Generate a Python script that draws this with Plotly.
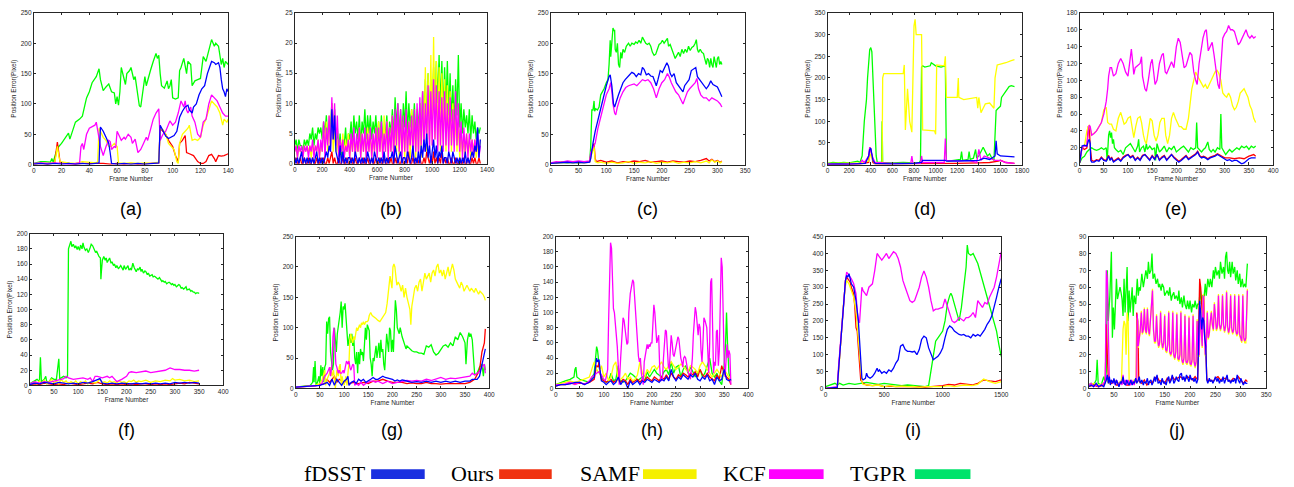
import plotly.graph_objects as go

W, H = 1294, 487

# ---------------- data (frame, position error) ----------------
A_FDSST = [(0,1),(5,2),(10,1),(15,2),(20,1),(25,2),(30,1),(35,2),(40,1),(45,2),(47,3),(48,62),(50,55),(52,45),(54,35),(55,20),(56,2),(60,1),(65,2),(70,1),(75,2),(80,1),(85,2),(90,3),(91,65),(93,55),(95,47),(97,43),(99,45),(101,48),(103,55),(105,78),(107,88),(109,95),(111,98),(112,90),(114,85),(115,95),(117,100),(119,115),(121,125),(123,130),(125,150),(127,165),(128,170),(130,168),(131,165),(133,168),(134,160),(135,140),(136,125),(137,120),(138,112),(139,125),(140,120)]
A_OURS = [(0,1),(5,2),(10,1),(15,3),(16,20),(17,37),(18,20),(19,3),(25,2),(30,1),(35,2),(40,2),(45,3),(50,2),(55,1),(60,2),(65,1),(70,2),(75,1),(80,2),(85,3),(90,3),(91,60),(93,55),(95,50),(97,40),(100,30),(102,15),(104,5),(105,35),(107,40),(109,48),(110,20),(112,18),(115,15),(118,5),(120,2),(122,2),(124,5),(126,15),(128,17),(130,10),(131,5),(133,15),(135,14),(137,15),(140,18)]
A_SAMF = [(0,1),(5,3),(10,2),(15,3),(16,15),(17,30),(18,15),(19,5),(25,3),(30,2),(35,5),(40,4),(45,3),(46,5),(47,60),(48,55),(50,45),(52,40),(54,30),(56,30),(58,35),(60,30),(61,3),(65,2),(70,3),(75,2),(80,3),(85,2),(90,4),(91,60),(93,58),(95,50),(97,35),(99,30),(101,25),(103,5),(104,2),(105,35),(107,50),(109,55),(111,60),(112,65),(114,40),(116,42),(118,40),(120,45),(122,65),(124,75),(126,90),(128,105),(130,100),(132,95),(134,85),(136,65),(137,75),(139,70),(140,75)]
A_KCF = [(0,2),(5,3),(10,2),(15,3),(20,2),(25,1),(30,2),(33,3),(34,30),(35,35),(36,25),(38,50),(40,60),(42,62),(44,65),(45,70),(46,55),(47,38),(48,30),(50,15),(51,25),(52,30),(54,40),(55,38),(56,25),(58,30),(59,28),(60,55),(62,45),(63,40),(65,45),(66,42),(68,50),(70,45),(71,35),(73,42),(75,20),(77,25),(79,35),(81,45),(82,40),(84,60),(86,75),(88,85),(90,92),(91,40),(93,50),(95,55),(97,65),(98,72),(100,65),(102,70),(104,85),(106,105),(108,95),(109,105),(110,90),(111,85),(113,95),(114,80),(116,70),(118,50),(120,45),(122,70),(124,75),(126,100),(128,115),(130,110),(132,105),(134,95),(136,85),(138,80),(140,80)]
A_TGPR = [(0,2),(3,4),(5,5),(8,5),(10,4),(12,4),(13,10),(14,4),(16,20),(18,30),(20,35),(22,42),(24,50),(25,52),(26,42),(28,55),(30,70),(33,75),(35,80),(37,100),(38,110),(40,120),(42,135),(45,145),(47,158),(48,140),(50,122),(52,128),(54,133),(56,120),(58,118),(59,100),(60,112),(61,98),(62,120),(63,160),(65,140),(66,132),(67,150),(69,155),(70,160),(72,140),(73,145),(74,130),(76,97),(77,95),(78,115),(80,145),(81,130),(82,140),(84,155),(86,170),(88,183),(89,175),(90,180),(91,150),(92,130),(94,126),(96,138),(97,125),(98,130),(99,140),(100,110),(102,108),(104,110),(105,155),(106,160),(108,175),(109,162),(110,150),(111,170),(113,165),(114,130),(116,138),(118,140),(120,142),(121,160),(122,178),(124,170),(126,190),(127,200),(128,206),(130,195),(131,200),(133,195),(134,180),(135,165),(136,175),(137,160),(138,170),(140,165)]

B_FRAMES = list(range(0, 1351, 10))
B_FDSST = [1,0,1,0,1,2,0,1,0,1, 0,1,0,1,0,1,2,0,1,0, 1,0,1,2,1,3,2,9,4,8, 2,1,0,3,0,2,0,1,0,1,
           1,0,1,0,2,1,0,1,0,1, 0,1,0,2,1,0,1,0,2,1, 0,1,0,1,0,2,0,1,0,1, 1,2,0,3,1,0,1,2,0,1,
           1,0,2,1,0,1,3,0,1,0, 2,0,3,1,4,2,5,1,3,0, 2,4,1,3,0,2,1,3,0,1, 1,0,2,1,0,2,1,0,1,0,
           1,0,1,0,2,0,1,0,1,2, 1,3,2,6,1,4]
B_OURS = [0,1,0,0,1,0,0,1,0,0, 1,0,0,1,0,0,1,0,0,1, 0,1,0,0,1,0,1,2,0,1, 0,0,1,0,0,1,0,0,1,0,
          0,1,0,0,1,0,0,1,0,0, 1,0,0,1,0,0,1,0,0,1, 0,0,1,0,0,1,0,0,1,0, 1,0,0,1,0,1,0,0,1,0,
          0,1,0,2,0,0,1,0,0,1, 0,1,0,0,1,0,2,1,0,1, 0,2,0,1,0,1,0,2,0,1, 0,1,0,0,1,0,0,1,0,0,
          1,0,0,1,0,0,1,0,0,1, 0,1,0,0,1,0]
B_SAMF = [2,3,1,3,2,2,1,3,2,3, 2,3,1,3,2,3,2,4,1,3, 2,6,3,7,2,8,3,10,2,6, 2,4,1,3,2,5,1,4,2,5,
          1,4,2,5,1,4,2,6,1,5, 2,5,1,6,2,5,1,4,2,6, 1,7,2,6,1,8,2,7,1,6, 2,8,1,7,2,9,1,8,2,7,
          1,8,2,7,1,9,2,8,1,9, 2,10,1,12,3,16,2,15,4,18, 3,21,4,17,3,16,2,15,4,14, 2,13,3,12,2,10,3,8,2,7,
          1,5,2,4,1,5,2,4,1,4, 2,4,1,3,2,4]
B_KCF = [2,3,1,3,2,3,1,3,2,3, 1,3,2,4,1,3,2,4,1,4, 2,7,1,6,3,8,2,11,4,10, 3,8,1,4,2,4,1,3,2,4,
         1,5,2,6,1,5,2,6,1,5, 2,6,1,5,2,6,1,5,2,6, 1,6,2,7,1,5,2,7,1,6, 2,8,1,9,3,10,2,9,1,8,
         2,9,1,7,3,8,1,9,2,10, 1,11,3,12,2,10,4,13,2,12, 3,14,4,13,2,12,3,11,2,12, 3,10,2,11,3,9,2,12,3,10,
         2,7,1,6,2,5,1,5,2,4, 1,4,2,5,1,3]
B_TGPR = [3,4,2,4,3,3,2,4,3,4, 3,5,4,6,3,5,4,6,5,6, 4,7,5,8,4,7,6,10,5,9, 3,6,2,5,1,4,3,6,2,5,
          4,7,3,8,5,7,4,8,3,7, 5,9,4,8,5,8,4,7,5,8, 4,7,3,8,4,6,5,8,3,7, 5,9,4,11,6,10,5,9,4,10,
          6,12,5,10,6,9,5,10,4,9, 6,10,5,12,7,14,6,15,8,14, 9,16,8,17,10,18,9,17,8,16, 9,17,8,15,7,13,6,14,8,18,
          6,10,5,9,6,8,5,9,4,8, 5,7,4,6,5,6]

C_FDSST = [(0,2),(10,3),(20,3),(30,4),(40,3),(50,4),(60,3),(70,4),(72,10),(74,25),(76,35),(80,55),(85,75),(90,95),(95,115),(100,130),(105,145),(107,148),(110,130),(113,100),(115,95),(118,105),(122,115),(126,125),(130,135),(134,140),(138,145),(142,148),(146,152),(150,150),(154,145),(158,150),(162,148),(165,160),(168,157),(172,148),(176,150),(180,146),(184,145),(187,138),(190,130),(193,140),(197,155),(201,152),(205,160),(209,168),(212,162),(215,150),(218,145),(222,150),(226,135),(230,130),(234,125),(238,120),(241,130),(245,135),(249,140),(253,155),(257,158),(261,160),(264,145),(268,140),(272,135),(276,128),(280,125),(284,130),(288,138),(292,132),(296,130),(300,128),(304,120),(308,112)]
C_OURS = [(0,2),(10,3),(20,4),(30,5),(40,4),(50,5),(60,4),(70,5),(73,20),(75,25),(78,35),(80,10),(82,5),(90,7),(100,4),(110,6),(120,3),(130,5),(140,4),(150,6),(160,5),(170,7),(180,4),(190,5),(200,6),(210,4),(220,6),(230,5),(240,4),(250,6),(260,5),(270,7),(280,10),(285,6),(290,9),(295,5),(300,7),(305,4),(308,6)]
C_SAMF = [(0,2),(10,3),(20,3),(30,4),(40,3),(50,4),(60,3),(70,4),(73,15),(75,20),(78,30),(80,5),(85,3),(90,4),(100,2),(110,4),(120,2),(130,3),(140,5),(150,2),(160,4),(170,3),(180,5),(190,2),(200,4),(210,3),(220,5),(230,2),(240,4),(250,3),(260,5),(270,3),(280,6),(285,3),(290,8),(295,4),(300,6),(305,3),(308,5)]
C_KCF = [(0,3),(10,5),(20,4),(30,6),(40,5),(50,6),(60,5),(70,6),(72,20),(75,25),(78,30),(80,35),(85,60),(90,80),(95,100),(100,115),(105,125),(108,135),(110,120),(112,100),(115,85),(117,82),(120,95),(125,110),(130,120),(135,127),(140,130),(145,132),(150,133),(155,130),(160,135),(165,140),(170,138),(175,140),(180,135),(185,125),(190,110),(195,125),(200,135),(205,140),(210,150),(213,145),(217,135),(220,130),(225,120),(230,115),(235,105),(238,100),(242,110),(246,120),(250,125),(255,130),(260,135),(263,142),(266,125),(270,115),(275,110),(280,110),(285,105),(290,110),(295,108),(300,105),(305,100),(308,95)]
C_TGPR = [(0,2),(10,3),(20,4),(30,3),(40,4),(50,3),(60,4),(70,5),(72,30),(74,90),(76,90),(78,105),(79,88),(81,92),(84,90),(87,95),(90,115),(93,120),(96,125),(100,135),(103,140),(105,165),(106,180),(107,205),(108,178),(110,200),(112,225),(114,220),(115,222),(116,190),(118,185),(120,200),(122,165),(124,160),(126,185),(128,175),(130,190),(133,185),(136,195),(140,200),(143,195),(146,200),(150,198),(153,202),(156,200),(159,205),(162,200),(165,210),(168,205),(171,200),(174,198),(177,200),(180,195),(183,185),(186,180),(189,182),(192,190),(195,198),(198,200),(201,205),(204,200),(207,205),(210,208),(212,195),(215,198),(218,190),(221,183),(224,175),(227,180),(230,185),(233,178),(236,190),(239,183),(242,190),(245,185),(248,195),(251,188),(254,193),(257,195),(260,200),(262,206),(264,190),(266,185),(269,190),(272,185),(275,183),(277,175),(280,165),(282,175),(284,172),(286,160),(288,175),(290,165),(292,160),(294,178),(296,170),(298,160),(300,175),(302,178),(304,165),(306,170),(308,165)]

D_FDSST = [(0,1),(100,2),(200,1),(300,2),(350,3),(380,20),(390,35),(400,38),(410,25),(420,10),(440,3),(600,2),(800,3),(870,5),(880,10),(1000,10),(1090,10),(1100,8),(1200,8),(1300,9),(1400,10),(1450,15),(1500,12),(1550,20),(1560,55),(1570,25),(1600,20),(1650,19),(1730,18)]
D_OURS = [(0,1),(100,2),(200,1),(300,2),(380,5),(390,40),(400,35),(420,5),(440,2),(600,2),(800,2),(1000,3),(1200,3),(1400,4),(1500,5),(1580,8),(1600,10),(1650,5),(1730,3)]
D_SAMF = [(0,3),(100,3),(200,3),(300,4),(380,8),(400,25),(420,10),(440,3),(500,3),(505,5),(510,200),(520,210),(600,210),(700,210),(710,230),(720,80),(740,175),(760,100),(780,75),(790,180),(800,320),(810,335),(820,300),(870,300),(880,80),(990,78),(1000,70),(1010,230),(1080,228),(1090,250),(1100,155),(1200,155),(1210,200),(1215,155),(1260,150),(1380,155),(1390,130),(1400,155),(1420,120),(1440,130),(1460,140),(1500,142),(1540,130),(1550,200),(1570,230),(1600,232),(1650,235),(1700,240),(1730,242)]
D_KCF = [(0,2),(100,1),(200,2),(300,3),(320,10),(340,5),(360,12),(380,20),(390,40),(400,30),(410,20),(420,15),(440,5),(600,3),(770,3),(780,20),(790,3),(860,3),(870,20),(880,5),(1000,5),(1080,5),(1090,60),(1100,10),(1200,8),(1300,10),(1380,5),(1400,35),(1420,10),(1450,20),(1500,15),(1550,10),(1600,10),(1650,5),(1730,3)]
D_TGPR = [(0,3),(50,5),(100,4),(150,5),(200,4),(250,6),(280,8),(300,5),(320,20),(340,100),(360,150),(370,200),(380,240),(390,265),(400,270),(410,260),(420,200),(430,150),(440,80),(450,20),(460,5),(500,5),(505,100),(510,5),(600,4),(700,5),(800,4),(850,5),(860,10),(870,225),(880,228),(900,225),(950,228),(960,235),(1000,228),(1050,225),(1090,228),(1095,60),(1100,10),(1120,8),(1200,10),(1230,12),(1240,30),(1250,10),(1300,12),(1310,30),(1320,12),(1350,15),(1370,35),(1380,15),(1400,20),(1420,30),(1440,40),(1460,30),(1480,20),(1500,25),(1520,15),(1540,10),(1555,100),(1560,125),(1580,130),(1600,135),(1610,155),(1650,170),(1680,180),(1700,182),(1730,180)]

E_FDSST = [(0,2),(5,22),(10,23),(15,22),(18,28),(20,30),(22,25),(23,5),(25,3),(30,3),(35,5),(40,4),(45,8),(50,5),(55,4),(60,10),(63,5),(66,8),(70,3),(75,5),(80,7),(85,4),(90,8),(95,10),(100,12),(105,8),(110,10),(115,5),(120,8),(125,5),(130,10),(135,12),(140,8),(145,5),(150,10),(155,6),(160,12),(165,5),(170,8),(175,10),(180,5),(185,8),(190,12),(195,8),(200,5),(205,3),(210,5),(215,8),(220,10),(225,6),(230,8),(235,10),(240,12),(244,15),(248,10),(252,8),(256,9),(260,8),(265,6),(270,8),(275,9),(280,10),(285,12),(290,10),(295,8),(300,6),(305,5),(310,6),(315,4),(320,5),(325,5),(330,3),(335,1),(340,2),(345,5),(350,7),(355,8),(360,8),(364,8)]
E_OURS = [(0,2),(5,20),(10,18),(15,20),(18,45),(20,45),(22,20),(25,5),(30,4),(35,6),(40,5),(45,9),(50,6),(55,5),(60,11),(63,6),(66,9),(70,4),(75,6),(80,8),(85,5),(90,9),(95,11),(100,12),(105,9),(110,11),(115,6),(120,9),(125,6),(130,11),(135,12),(140,9),(145,6),(150,11),(155,7),(160,12),(165,6),(170,9),(175,11),(180,6),(185,9),(190,12),(195,9),(200,6),(205,4),(210,6),(215,9),(220,11),(225,7),(230,9),(235,11),(240,13),(244,16),(248,11),(252,9),(256,10),(260,9),(265,7),(270,9),(275,10),(280,11),(285,13),(290,11),(295,9),(300,8),(310,8),(320,7),(330,8),(340,7),(350,10),(360,12),(364,10)]
E_SAMF = [(0,5),(5,20),(10,22),(15,40),(18,45),(20,47),(25,35),(30,38),(35,40),(40,45),(45,50),(50,65),(55,68),(58,50),(62,48),(66,48),(70,42),(75,40),(80,55),(85,62),(88,55),(92,48),(96,50),(100,55),(105,57),(110,35),(112,32),(116,45),(120,55),(125,57),(128,50),(132,35),(135,28),(138,25),(142,40),(146,55),(150,52),(154,35),(158,28),(162,35),(166,50),(170,55),(175,55),(178,35),(182,25),(186,35),(190,55),(194,62),(198,55),(202,50),(206,45),(210,45),(215,42),(220,42),(225,55),(228,70),(232,90),(236,100),(240,110),(244,105),(248,100),(252,95),(256,92),(260,95),(264,90),(268,95),(272,100),(276,105),(280,110),(284,112),(288,108),(292,100),(296,85),(300,82),(304,80),(308,85),(312,80),(316,70),(320,65),(324,68),(328,75),(332,85),(336,88),(340,90),(344,85),(348,80),(352,70),(356,65),(360,55),(364,50)]
E_KCF = [(0,5),(5,20),(10,22),(15,22),(18,40),(20,47),(22,45),(25,35),(30,37),(35,40),(40,45),(45,50),(50,60),(55,75),(58,90),(60,105),(63,115),(66,115),(70,105),(75,108),(80,120),(85,126),(90,120),(95,110),(100,105),(105,125),(107,137),(110,120),(112,107),(115,115),(120,118),(125,120),(128,128),(130,105),(135,90),(138,87),(142,100),(147,120),(150,125),(153,110),(156,95),(160,100),(165,120),(170,130),(173,132),(177,110),(180,108),(185,115),(190,122),(195,115),(200,140),(204,150),(208,145),(212,130),(216,115),(220,117),(224,125),(228,133),(232,130),(236,110),(240,100),(243,95),(247,120),(251,135),(255,150),(259,158),(262,160),(266,135),(270,140),(274,145),(278,130),(282,115),(286,95),(289,90),(292,120),(296,150),(300,155),(304,158),(308,165),(312,160),(316,160),(320,158),(324,150),(328,142),(332,145),(336,150),(340,155),(344,160),(348,153),(352,150),(356,153),(360,150),(364,152)]
E_TGPR = [(0,2),(5,8),(10,10),(15,15),(20,18),(25,20),(30,18),(35,17),(40,18),(45,20),(50,18),(55,20),(57,5),(58,25),(60,35),(62,40),(64,32),(66,38),(68,25),(70,30),(72,20),(75,18),(80,15),(85,17),(90,12),(95,20),(100,22),(105,25),(110,20),(115,15),(120,22),(122,30),(124,15),(128,20),(132,22),(135,15),(138,25),(140,18),(145,22),(150,18),(155,20),(157,5),(160,25),(165,15),(170,18),(175,22),(180,15),(185,20),(190,18),(195,22),(200,15),(205,18),(210,20),(215,22),(220,18),(225,15),(230,20),(235,18),(240,20),(242,50),(244,20),(248,18),(252,15),(256,18),(260,20),(265,27),(268,18),(272,15),(276,18),(280,15),(285,20),(290,18),(292,60),(294,20),(298,15),(302,12),(306,15),(310,18),(315,15),(320,18),(325,20),(330,18),(335,22),(340,20),(345,22),(350,18),(355,22),(360,20),(364,22)]

F_FDSST = [(0,1),(10,3),(20,2),(30,4),(40,3),(50,2),(60,4),(70,3),(80,2),(90,3),(100,2),(110,4),(120,3),(130,5),(140,8),(145,9),(150,3),(160,2),(170,3),(180,2),(190,3),(200,2),(210,2),(220,3),(230,2),(240,3),(250,2),(260,3),(270,2),(280,3),(290,2),(300,4),(310,3),(320,4),(330,3),(340,4),(350,3)]
F_OURS = [(0,1),(10,2),(20,1),(30,3),(40,2),(50,1),(60,2),(70,1),(80,3),(90,2),(100,1),(110,2),(120,3),(130,2),(140,4),(150,2),(160,1),(170,2),(180,1),(190,2),(200,1),(210,2),(220,1),(230,2),(240,2),(250,1),(260,2),(270,1),(280,2),(290,1),(300,2),(310,3),(320,2),(330,4),(340,3),(350,2)]
F_SAMF = [(0,1),(5,3),(10,5),(15,2),(20,6),(25,3),(30,7),(35,2),(40,5),(45,8),(50,3),(55,6),(60,2),(65,8),(70,4),(75,6),(80,2),(85,5),(90,3),(95,6),(100,2),(105,5),(110,3),(115,6),(120,2),(125,5),(130,4),(135,3),(140,5),(145,8),(150,4),(155,5),(160,3),(165,6),(170,4),(175,5),(180,3),(185,6),(190,4),(195,5),(200,3),(205,6),(210,5),(215,7),(220,4),(225,6),(230,5),(240,7),(250,4),(260,6),(270,5),(280,7),(290,6),(295,9),(300,7),(310,8),(320,6),(330,7),(340,5),(350,6)]
F_KCF = [(0,2),(10,5),(20,3),(30,5),(40,4),(50,6),(60,8),(70,9),(75,12),(80,10),(90,8),(100,9),(110,10),(120,8),(125,10),(130,5),(135,12),(140,12),(150,10),(160,12),(165,10),(170,12),(175,8),(180,5),(190,8),(200,12),(205,17),(210,18),(220,17),(230,18),(240,19),(250,17),(260,18),(270,19),(280,20),(290,23),(295,22),(300,21),(310,21),(320,20),(330,20),(340,19),(350,20)]
F_TGPR = [(0,2),(5,4),(10,5),(15,8),(20,5),(22,37),(24,5),(30,8),(33,12),(35,5),(40,5),(45,10),(50,8),(55,8),(60,35),(62,8),(65,10),(70,12),(75,10),(78,12),(80,180),(82,185),(85,190),(87,183),(90,186),(93,181),(95,184),(98,179),(100,183),(103,178),(105,185),(108,180),(110,188),(112,182),(115,178),(118,180),(121,175),(124,180),(127,186),(130,184),(133,180),(136,175),(138,177),(140,173),(143,170),(146,168),(147,140),(148,150),(150,165),(153,170),(156,165),(158,168),(160,162),(163,166),(165,168),(168,161),(170,163),(173,158),(175,160),(178,155),(180,158),(183,154),(185,155),(188,158),(190,156),(193,152),(195,158),(198,153),(200,155),(203,158),(205,152),(208,154),(210,152),(213,161),(216,155),(218,151),(220,150),(223,154),(225,152),(228,156),(230,150),(232,153),(235,148),(238,151),(240,150),(243,146),(245,148),(248,144),(250,145),(253,146),(255,143),(258,144),(260,143),(263,141),(265,140),(268,142),(270,140),(273,137),(275,138),(278,136),(280,137),(283,134),(285,135),(288,136),(290,135),(293,133),(295,134),(298,132),(300,133),(303,130),(305,131),(308,133),(310,132),(313,128),(315,129),(318,127),(320,128),(323,130),(325,126),(328,127),(330,127),(333,124),(335,125),(338,123),(340,123),(343,121),(345,122),(348,122),(350,121)]

G_FDSST = [(0,2),(20,3),(40,4),(50,5),(60,8),(65,10),(70,5),(75,15),(80,5),(85,15),(90,10),(95,5),(100,12),(105,15),(108,20),(110,5),(115,10),(120,12),(125,8),(130,15),(135,12),(140,15),(145,10),(150,12),(155,15),(160,18),(165,15),(170,15),(175,18),(180,20),(185,18),(190,17),(195,15),(200,15),(205,12),(210,14),(215,12),(220,14),(225,13),(230,12),(240,10),(250,11),(260,10),(270,12),(280,10),(290,12),(300,10),(310,12),(320,10),(330,12),(340,10),(350,12),(360,12),(365,15),(370,15),(375,15),(380,20),(385,40),(390,60),(392,65)]
G_OURS = [(0,2),(20,3),(40,4),(60,8),(65,15),(70,10),(75,15),(80,20),(85,10),(90,15),(100,10),(105,12),(110,8),(120,10),(130,8),(140,10),(150,8),(160,12),(170,12),(180,15),(190,12),(200,10),(210,10),(220,10),(230,8),(240,9),(250,8),(260,8),(270,10),(280,8),(290,8),(300,7),(310,8),(320,8),(330,8),(340,8),(350,8),(360,10),(370,15),(380,30),(385,60),(390,75),(392,98)]
G_SAMF = [(0,2),(20,3),(40,5),(50,8),(55,15),(60,30),(62,5),(65,15),(70,25),(72,35),(75,20),(78,30),(80,10),(82,0),(85,30),(88,20),(90,35),(92,40),(94,5),(96,20),(98,10),(100,5),(104,20),(106,5),(108,25),(110,40),(112,80),(114,90),(116,80),(118,75),(120,85),(122,80),(124,90),(126,100),(128,95),(130,100),(132,105),(134,100),(136,108),(138,105),(140,110),(142,105),(145,110),(148,110),(150,112),(152,120),(155,125),(158,120),(162,118),(166,115),(170,112),(174,110),(178,115),(182,120),(186,125),(189,140),(191,160),(193,175),(195,185),(197,175),(199,165),(201,200),(203,205),(205,200),(207,180),(209,170),(212,175),(215,170),(218,160),(221,170),(224,150),(227,165),(230,150),(233,140),(236,130),(238,105),(240,135),(243,150),(246,165),(249,170),(252,160),(255,175),(258,180),(261,160),(264,175),(267,190),(270,180),(273,185),(276,190),(279,175),(282,190),(285,195),(288,185),(291,200),(294,205),(297,190),(300,195),(303,185),(306,195),(309,180),(312,190),(315,200),(318,185),(321,195),(324,205),(327,195),(330,180),(333,175),(336,170),(339,165),(342,175),(345,170),(348,160),(351,165),(354,170),(357,165),(360,160),(363,165),(366,162),(369,158),(372,165),(375,160),(378,155),(381,160),(384,158),(387,155),(390,150),(392,145)]
G_KCF = [(0,2),(20,3),(40,4),(50,5),(55,10),(60,20),(65,25),(70,35),(72,20),(75,40),(77,85),(79,100),(81,70),(83,40),(85,35),(88,25),(90,30),(92,25),(95,25),(98,30),(100,25),(103,35),(105,45),(108,40),(110,45),(112,35),(114,30),(116,35),(118,40),(120,38),(122,5),(125,8),(130,5),(135,10),(140,5),(145,8),(150,10),(155,12),(160,12),(165,10),(170,12),(175,10),(180,8),(185,10),(190,12),(195,10),(200,8),(210,10),(220,12),(230,13),(240,12),(250,13),(260,12),(270,15),(280,13),(290,15),(300,18),(310,15),(320,17),(330,16),(340,17),(350,18),(360,20),(365,25),(370,22),(375,25),(380,28),(385,35),(390,40),(392,25)]
G_TGPR = [(0,2),(10,3),(20,3),(30,5),(35,10),(37,35),(38,10),(40,45),(42,5),(45,10),(48,20),(50,5),(52,38),(54,20),(56,35),(58,10),(60,35),(62,40),(64,110),(66,90),(68,115),(70,118),(72,60),(74,40),(76,30),(78,40),(80,100),(82,80),(84,60),(86,90),(88,100),(90,110),(92,125),(94,143),(96,100),(98,135),(100,130),(102,140),(104,120),(106,95),(108,70),(110,80),(112,90),(114,75),(116,90),(118,70),(120,85),(122,50),(124,40),(126,60),(128,25),(130,60),(132,40),(134,65),(136,55),(138,60),(140,45),(142,70),(144,100),(146,80),(148,105),(150,100),(152,95),(154,50),(156,40),(158,20),(160,50),(162,45),(164,60),(166,70),(168,50),(170,60),(172,75),(174,50),(176,80),(178,60),(180,65),(182,40),(184,30),(186,60),(188,90),(190,75),(192,60),(194,100),(196,95),(198,60),(200,80),(202,60),(204,120),(206,145),(208,130),(210,100),(212,95),(214,90),(216,100),(218,90),(220,85),(222,80),(224,75),(226,70),(228,65),(230,70),(232,68),(235,65),(240,62),(245,60),(250,60),(255,58),(260,58),(265,56),(270,70),(275,68),(280,72),(285,60),(290,55),(295,58),(300,65),(305,70),(310,72),(315,68),(320,75),(325,70),(330,85),(335,80),(340,92),(345,85),(350,75),(352,40),(355,80),(358,92),(360,85),(362,90),(365,80),(368,40),(370,22),(375,25),(380,35),(385,40),(388,20),(390,40),(392,30)]

H_FDSST = [(0,3),(10,5),(20,5),(30,6),(40,8),(50,8),(60,5),(70,8),(80,15),(85,40),(87,35),(90,38),(92,25),(95,10),(100,8),(105,5),(110,8),(115,10),(120,5),(125,8),(130,15),(135,5),(140,10),(145,8),(150,0),(155,10),(160,5),(165,8),(170,10),(175,5),(180,10),(185,8),(190,12),(195,10),(200,8),(205,12),(210,10),(215,8),(220,12),(225,10),(230,15),(235,10),(240,25),(245,15),(250,10),(255,15),(260,12),(265,18),(270,15),(275,12),(280,18),(285,15),(290,20),(295,12),(300,10),(305,15),(310,12),(315,18),(320,10),(325,12),(330,5),(335,15),(340,10),(345,12),(350,25),(355,12),(360,10),(364,12)]
H_OURS = [(0,3),(10,5),(20,5),(30,7),(40,6),(50,7),(60,6),(70,8),(80,12),(85,30),(88,28),(90,35),(92,20),(95,12),(100,10),(105,8),(110,10),(115,12),(120,8),(125,10),(130,12),(135,8),(140,12),(145,10),(150,5),(155,12),(160,8),(165,10),(170,12),(175,8),(180,12),(185,10),(190,15),(195,12),(200,10),(205,15),(210,12),(215,10),(220,15),(225,12),(230,18),(235,12),(240,20),(245,15),(250,12),(255,18),(260,15),(265,20),(270,18),(275,15),(280,20),(285,18),(290,22),(295,15),(300,25),(305,18),(310,15),(315,20),(320,15),(325,12),(330,10),(335,18),(340,12),(345,30),(350,20),(355,15),(360,12),(364,5)]
H_SAMF = [(0,5),(10,6),(20,8),(30,10),(40,8),(50,10),(60,12),(70,15),(75,25),(80,35),(85,25),(90,20),(95,30),(100,15),(105,20),(110,10),(115,15),(120,30),(125,35),(128,20),(130,10),(135,12),(140,15),(145,20),(150,12),(155,15),(160,10),(165,12),(170,18),(175,35),(180,20),(185,15),(190,25),(195,20),(200,28),(205,30),(210,25),(215,30),(220,35),(225,28),(230,25),(235,30),(240,35),(245,30),(250,25),(255,28),(260,32),(265,30),(270,25),(275,22),(280,30),(285,28),(290,25),(295,20),(300,30),(305,35),(310,30),(315,25),(320,20),(325,15),(330,20),(335,25),(340,20),(345,15),(350,25),(355,20),(360,15),(364,15)]
H_KCF = [(0,5),(10,5),(20,6),(30,8),(40,5),(50,8),(60,5),(70,10),(75,15),(80,18),(85,20),(90,22),(95,18),(100,12),(103,10),(105,15),(108,25),(110,90),(112,150),(114,192),(116,185),(118,150),(120,105),(122,100),(124,85),(126,80),(128,55),(130,30),(132,5),(135,40),(138,80),(140,93),(142,90),(144,80),(146,70),(148,58),(150,60),(152,100),(155,125),(158,140),(160,143),(162,140),(164,120),(166,100),(168,80),(170,55),(172,42),(174,35),(176,40),(178,20),(180,10),(182,5),(184,35),(186,45),(188,55),(190,58),(192,52),(194,58),(196,55),(198,60),(200,60),(202,80),(204,110),(206,100),(208,70),(210,60),(212,65),(214,70),(216,30),(218,12),(220,10),(222,15),(224,40),(226,60),(228,77),(230,75),(232,40),(234,30),(236,25),(238,60),(240,70),(242,60),(244,45),(246,42),(248,50),(250,55),(252,62),(254,68),(256,65),(258,50),(260,40),(262,35),(264,28),(266,40),(268,42),(270,40),(272,30),(274,25),(276,20),(278,15),(280,12),(282,25),(284,40),(286,70),(288,100),(290,107),(292,100),(294,80),(296,70),(298,85),(300,80),(302,50),(304,35),(306,60),(308,93),(310,90),(312,85),(314,80),(316,50),(318,20),(320,60),(322,140),(324,145),(326,80),(328,20),(330,35),(332,30),(334,75),(336,77),(338,30),(340,50),(342,110),(344,172),(346,160),(348,80),(350,40),(352,15),(354,35),(356,58),(358,40),(360,50),(362,45),(364,5)]
H_TGPR = [(0,5),(10,8),(20,10),(30,12),(38,15),(40,25),(42,28),(44,15),(50,12),(60,10),(70,8),(80,20),(85,55),(87,50),(89,35),(92,20),(95,15),(100,10),(105,8),(110,10),(115,20),(120,10),(125,12),(130,30),(132,12),(135,10),(140,8),(145,10),(150,15),(155,20),(160,18),(165,15),(170,10),(175,12),(180,15),(185,10),(190,22),(195,15),(200,20),(205,25),(210,20),(215,18),(220,15),(225,22),(230,25),(235,18),(240,35),(245,20),(250,28),(255,30),(260,15),(265,25),(270,30),(275,20),(280,28),(285,22),(290,15),(295,20),(300,25),(305,15),(310,20),(315,30),(320,40),(325,20),(330,15),(335,20),(340,10),(345,5),(350,30),(353,60),(355,100),(357,60),(360,20),(364,10)]

I_FDSST = [(0,0),(100,3),(110,50),(130,150),(150,250),(170,320),(180,335),(190,330),(200,340),(210,320),(220,310),(240,300),(250,280),(260,260),(280,200),(290,150),(300,80),(310,30),(320,25),(340,30),(350,45),(360,35),(380,30),(400,35),(420,45),(440,60),(450,50),(460,55),(480,45),(500,50),(520,45),(540,55),(560,50),(580,60),(600,75),(620,85),(640,125),(660,130),(680,115),(700,110),(720,110),(740,108),(760,110),(780,100),(800,115),(820,145),(840,155),(860,150),(880,120),(900,100),(920,85),(940,90),(960,95),(980,105),(1000,120),(1020,150),(1040,175),(1060,185),(1080,180),(1100,170),(1120,165),(1140,160),(1160,158),(1180,160),(1200,155),(1220,155),(1240,150),(1260,160),(1280,155),(1300,160),(1320,155),(1340,165),(1360,175),(1380,190),(1400,200),(1420,215),(1440,240),(1460,270),(1480,300),(1500,325)]
I_OURS = [(0,0),(100,3),(110,50),(130,150),(150,250),(170,320),(180,330),(190,325),(200,320),(210,315),(220,300),(240,280),(250,240),(260,180),(270,170),(280,120),(290,60),(300,25),(310,20),(320,15),(350,10),(400,8),(450,10),(500,5),(550,7),(600,5),(650,6),(700,5),(750,4),(800,3),(850,4),(900,5),(950,6),(1000,8),(1050,12),(1100,10),(1150,15),(1200,12),(1250,10),(1300,15),(1350,25),(1400,22),(1450,20),(1500,25)]
I_SAMF = [(0,0),(100,3),(110,40),(130,140),(150,240),(170,305),(180,320),(190,315),(200,310),(210,300),(220,290),(240,270),(260,230),(280,150),(300,50),(310,20),(320,12),(350,10),(400,8),(450,10),(500,5),(550,8),(600,5),(650,7),(700,5),(750,6),(800,3),(850,5),(900,5),(950,4),(1000,5),(1050,8),(1100,5),(1150,8),(1200,10),(1250,8),(1300,12),(1350,28),(1400,20),(1450,15),(1500,20)]
I_KCF = [(0,0),(50,3),(100,5),(110,60),(130,150),(150,250),(170,320),(180,345),(190,340),(200,335),(210,330),(220,325),(240,310),(260,280),(270,230),(280,200),(290,195),(300,270),(310,300),(320,290),(340,280),(350,275),(370,300),(400,310),(420,350),(440,400),(460,390),(480,380),(500,390),(520,400),(540,385),(560,395),(580,405),(600,400),(620,385),(640,360),(660,320),(680,300),(700,280),(720,260),(740,255),(760,260),(780,280),(800,300),(820,330),(840,348),(860,330),(880,300),(900,260),(920,230),(940,235),(960,235),(980,238),(1000,240),(1020,265),(1040,245),(1060,220),(1080,200),(1100,195),(1120,200),(1140,210),(1160,205),(1180,200),(1200,210),(1220,210),(1240,215),(1260,225),(1280,210),(1300,260),(1320,250),(1340,240),(1360,255),(1380,250),(1400,270),(1420,285),(1440,300),(1460,330),(1480,370),(1500,405)]
I_TGPR = [(0,5),(50,10),(80,15),(100,10),(120,15),(150,10),(200,15),(250,12),(300,15),(350,18),(400,15),(450,12),(500,15),(550,12),(600,10),(650,8),(700,10),(750,8),(800,5),(850,5),(880,8),(900,50),(920,100),(940,140),(960,150),(980,160),(1000,170),(1020,200),(1040,250),(1060,275),(1070,282),(1080,275),(1100,250),(1120,220),(1140,200),(1160,240),(1180,300),(1200,360),(1210,425),(1220,400),(1240,395),(1260,400),(1280,385),(1300,370),(1320,345),(1340,320),(1360,300),(1380,275),(1400,250),(1420,225),(1440,200),(1460,170),(1480,130),(1500,95)]

J_FDSST = [(0,1),(5,2),(10,1),(15,3),(20,1),(25,2),(30,1),(35,5),(37,8),(39,3),(41,7),(43,2),(45,5),(48,3),(50,6),(53,2),(55,5),(58,3),(60,1),(63,4),(65,3),(68,7),(70,3),(73,2),(75,5),(78,3),(80,2),(83,5),(86,2),(88,4),(90,3),(93,6),(95,3),(98,5),(100,7),(102,3),(105,5),(108,2),(110,4),(113,3),(116,6),(118,2),(120,4),(123,5),(125,2),(128,4),(130,7),(132,4),(135,8),(137,3),(140,4),(143,2),(145,6),(148,3),(150,4),(153,2),(155,5),(158,7),(160,3),(163,5),(165,8),(168,3),(170,4),(173,7),(175,5),(178,4),(180,8),(183,9),(185,5),(188,7),(190,4),(193,8),(195,6),(198,4),(200,8),(203,5),(205,6),(208,4),(210,6),(213,3),(215,5),(217,40),(219,52),(221,45),(223,35),(225,42),(227,40),(229,30),(231,25),(233,5),(235,3),(238,6),(240,4),(243,5),(245,3),(248,5),(250,7),(253,4),(255,6),(258,3),(260,5),(263,4),(265,7),(268,3),(270,5),(273,8),(275,4),(278,5),(280,3),(283,5),(285,4),(288,6),(290,3),(293,8),(295,5),(298,3),(300,6),(303,4),(305,2),(308,4),(310,3),(313,3)]
J_OURS = [(0,1),(10,2),(20,1),(30,2),(33,5),(35,38),(37,20),(39,5),(45,3),(50,4),(55,2),(60,2),(65,4),(70,3),(75,2),(80,2),(85,4),(90,4),(94,5),(95,45),(97,40),(99,5),(100,4),(105,3),(110,5),(115,2),(120,4),(125,3),(130,6),(135,7),(140,4),(145,5),(150,3),(155,6),(160,4),(165,7),(170,5),(175,6),(180,7),(185,6),(190,5),(195,7),(200,6),(205,5),(210,7),(215,5),(217,35),(219,65),(221,60),(223,45),(225,40),(227,55),(229,30),(231,25),(233,6),(235,4),(240,5),(245,4),(250,6),(255,7),(260,5),(265,6),(270,6),(275,5),(280,4),(285,6),(290,5),(295,7),(300,5),(305,3),(310,5),(313,4)]
J_SAMF = [(0,2),(10,3),(20,2),(30,3),(35,5),(40,3),(50,5),(60,3),(65,5),(68,35),(70,40),(72,38),(74,20),(76,45),(78,40),(80,5),(85,3),(90,5),(95,3),(96,42),(98,24),(100,29),(102,34),(104,46),(106,32),(108,34),(110,48),(112,34),(114,32),(116,48),(118,34),(120,31),(122,40),(124,51),(126,59),(128,34),(130,27),(132,27),(134,44),(136,29),(138,24),(140,26),(142,46),(144,27),(146,23),(148,26),(150,44),(152,22),(154,21),(156,25),(158,46),(160,21),(162,19),(164,21),(166,46),(168,19),(170,17),(172,21),(174,45),(176,17),(178,16),(180,19),(182,46),(184,16),(186,14),(188,17),(190,44),(192,15),(194,14),(196,16),(198,43),(200,14),(202,13),(204,16),(206,44),(208,15),(210,12),(212,15),(214,41),(216,19),(218,19),(220,46),(222,29),(224,24),(226,56),(228,39),(230,19),(232,24),(234,46),(236,29),(238,32),(240,39),(242,46),(244,37),(246,34),(248,51),(250,39),(252,34),(254,36),(256,56),(258,37),(260,34),(262,37),(264,56),(266,37),(268,33),(270,36),(272,58),(274,36),(276,32),(278,35),(280,56),(282,35),(284,32),(286,34),(288,56),(290,34),(292,31),(294,32),(296,56),(298,31),(300,29),(302,27),(304,56),(306,29),(308,27),(310,27),(313,59)]
J_KCF = [(0,2),(5,3),(10,1),(15,2),(20,1),(25,2),(30,3),(33,5),(35,70),(37,65),(39,30),(41,5),(43,3),(45,5),(48,3),(50,5),(53,2),(55,5),(58,3),(60,2),(63,4),(66,2),(68,8),(70,3),(73,5),(75,2),(78,5),(80,3),(83,2),(85,5),(88,3),(90,2),(93,6),(95,4),(96,44),(98,25),(100,30),(102,35),(104,45),(106,33),(108,35),(110,47),(112,35),(114,33),(116,47),(118,35),(120,32),(122,40),(124,50),(126,58),(128,35),(130,28),(132,28),(134,43),(136,30),(138,25),(140,27),(142,45),(144,28),(146,24),(148,27),(150,43),(152,23),(154,22),(156,26),(158,45),(160,22),(162,20),(164,22),(166,45),(168,20),(170,18),(172,22),(174,44),(176,18),(178,17),(180,20),(182,45),(184,17),(186,15),(188,18),(190,43),(192,16),(194,15),(196,17),(198,42),(200,15),(202,14),(204,17),(206,43),(208,16),(210,13),(212,16),(214,40),(216,20),(218,20),(220,45),(222,30),(224,25),(226,55),(228,40),(230,20),(232,25),(234,45),(236,30),(238,33),(240,40),(242,45),(244,38),(246,35),(248,50),(250,40),(252,35),(254,37),(256,55),(258,38),(260,35),(262,38),(264,55),(266,38),(268,34),(270,37),(272,57),(274,37),(276,33),(278,36),(280,55),(282,36),(284,33),(286,35),(288,55),(290,35),(292,32),(294,33),(296,55),(298,32),(300,30),(302,28),(304,55),(306,30),(308,28),(310,30),(313,58)]
J_TGPR = [(0,2),(5,3),(10,2),(15,5),(17,17),(19,3),(25,2),(30,7),(33,3),(35,10),(37,70),(39,40),(42,55),(45,81),(47,30),(49,48),(51,35),(53,55),(55,65),(57,53),(60,58),(62,60),(64,57),(66,53),(68,43),(70,65),(72,45),(74,55),(76,72),(78,40),(80,58),(82,45),(84,55),(86,60),(88,43),(90,55),(93,50),(96,65),(98,55),(100,60),(102,58),(105,68),(108,60),(110,65),(113,70),(116,65),(118,75),(120,68),(123,70),(125,80),(127,65),(130,68),(133,62),(136,65),(138,60),(140,62),(143,58),(145,62),(148,60),(150,55),(153,57),(155,58),(158,55),(160,60),(163,52),(165,55),(168,57),(170,53),(173,55),(176,52),(178,58),(180,50),(183,54),(185,48),(188,55),(190,50),(193,47),(195,52),(198,47),(200,52),(203,45),(205,50),(208,48),(210,52),(213,47),(215,50),(218,50),(220,60),(222,50),(225,55),(228,55),(230,62),(232,55),(235,65),(238,60),(240,65),(243,60),(246,70),(248,65),(250,72),(253,67),(256,70),(258,65),(260,75),(263,68),(266,72),(268,65),(270,78),(272,81),(274,70),(276,68),(278,75),(280,66),(283,75),(285,68),(288,72),(290,64),(293,70),(295,62),(298,68),(300,60),(303,65),(305,60),(308,62),(310,60),(313,74)]

LEGEND_NAMES = ["fDSST", "Ours", "SAMF", "KCF", "TGPR"]
CAPTIONS = ["(a)", "(b)", "(c)", "(d)", "(e)", "(f)", "(g)", "(h)", "(i)", "(j)"]

# ---------------- styling ----------------
LINE_COLORS = {"fDSST": "#0000ff", "Ours": "#ff0000", "SAMF": "#ffff00", "KCF": "#ff00ff", "TGPR": "#00ff00"}
LEGEND_COLORS = {"fDSST": "#1a2fe0", "Ours": "#f03210", "SAMF": "#f5f000", "KCF": "#ff00ff", "TGPR": "#00e36b"}
DRAW_ORDER = ["TGPR", "Ours", "SAMF", "KCF", "fDSST"]
AX = "#262626"


def xy(points):
    return [p[0] for p in points], [p[1] for p in points]


panels = [
    dict(box=(32, 228, 9, 163), xmax=140, dx=20, ymax=250, dy=50,
         data={"fDSST": xy(A_FDSST), "Ours": xy(A_OURS), "SAMF": xy(A_SAMF), "KCF": xy(A_KCF), "TGPR": xy(A_TGPR)}),
    dict(box=(295, 489, 9, 162), xmax=1400, dx=200, ymax=25, dy=5,
         data={"fDSST": (B_FRAMES, B_FDSST), "Ours": (B_FRAMES, B_OURS), "SAMF": (B_FRAMES, B_SAMF),
               "KCF": (B_FRAMES, B_KCF), "TGPR": (B_FRAMES, B_TGPR)}),
    dict(box=(553, 749, 9, 163), xmax=350, dx=50, ymax=250, dy=50,
         data={"fDSST": xy(C_FDSST), "Ours": xy(C_OURS), "SAMF": xy(C_SAMF), "KCF": xy(C_KCF), "TGPR": xy(C_TGPR)}),
    dict(box=(832, 1028, 9, 163), xmax=1800, dx=200, ymax=350, dy=50,
         data={"fDSST": xy(D_FDSST), "Ours": xy(D_OURS), "SAMF": xy(D_SAMF), "KCF": xy(D_KCF), "TGPR": xy(D_TGPR)}),
    dict(box=(1086, 1281, 9, 163), xmax=400, dx=50, ymax=180, dy=20,
         data={"fDSST": xy(E_FDSST), "Ours": xy(E_OURS), "SAMF": xy(E_SAMF), "KCF": xy(E_KCF), "TGPR": xy(E_TGPR)}),
    dict(box=(28, 223, 233, 387), xmax=400, dx=50, ymax=200, dy=20,
         data={"fDSST": xy(F_FDSST), "Ours": xy(F_OURS), "SAMF": xy(F_SAMF), "KCF": xy(F_KCF), "TGPR": xy(F_TGPR)}),
    dict(box=(296, 491, 236, 390), xmax=400, dx=50, ymax=250, dy=50,
         data={"fDSST": xy(G_FDSST), "Ours": xy(G_OURS), "SAMF": xy(G_SAMF), "KCF": xy(G_KCF), "TGPR": xy(G_TGPR)}),
    dict(box=(558, 752, 236, 390), xmax=400, dx=50, ymax=200, dy=20,
         data={"fDSST": xy(H_FDSST), "Ours": xy(H_OURS), "SAMF": xy(H_SAMF), "KCF": xy(H_KCF), "TGPR": xy(H_TGPR)}),
    dict(box=(830, 1007, 236, 390), xmax=1500, dx=500, ymax=450, dy=50,
         data={"fDSST": xy(I_FDSST), "Ours": xy(I_OURS), "SAMF": xy(I_SAMF), "KCF": xy(I_KCF), "TGPR": xy(I_TGPR)}),
    dict(box=(1095, 1274, 236, 390), xmax=350, dx=50, ymax=90, dy=10,
         data={"fDSST": xy(J_FDSST), "Ours": xy(J_OURS), "SAMF": xy(J_SAMF), "KCF": xy(J_KCF), "TGPR": xy(J_TGPR)}),
]

fig = go.Figure()
layout = dict(width=W, height=H, margin=dict(l=0, r=0, t=0, b=0), autosize=False,
              paper_bgcolor="white", plot_bgcolor="white", showlegend=False,
              font=dict(family="Liberation Sans, Arial, sans-serif", color=AX))
annotations = []
shapes = []

tick_font = dict(size=6.5, color=AX, family="Liberation Sans, Arial, sans-serif")
title_font = dict(size=6.5, color=AX, family="Liberation Sans, Arial, sans-serif")

for i, p in enumerate(panels, start=1):
    sfx = "" if i == 1 else str(i)
    x0, x1, y0, y1 = p["box"]
    for name in DRAW_ORDER:
        xs, ys = p["data"][name]
        fig.add_trace(go.Scatter(x=xs, y=ys, mode="lines", name=name,
                                 line=dict(color=LINE_COLORS[name], width=1.3),
                                 xaxis="x" + sfx, yaxis="y" + sfx, hoverinfo="skip"))
    layout["xaxis" + sfx] = dict(domain=[x0 / W, x1 / W], range=[0, p["xmax"]], anchor="y" + sfx,
                                 tick0=0, dtick=p["dx"], ticks="inside", ticklen=2.5, tickwidth=0.8,
                                 tickcolor=AX, showline=True, linecolor=AX, linewidth=0.8, mirror="ticks",
                                 showgrid=False, zeroline=False, tickfont=tick_font,
                                 title=dict(text="Frame Number", font=title_font, standoff=3))
    layout["yaxis" + sfx] = dict(domain=[1 - y1 / H, 1 - y0 / H], range=[0, p["ymax"]], anchor="x" + sfx,
                                 tick0=0, dtick=p["dy"], ticks="inside", ticklen=2.5, tickwidth=0.8,
                                 tickcolor=AX, showline=True, linecolor=AX, linewidth=0.8, mirror="ticks",
                                 showgrid=False, zeroline=False, tickfont=tick_font,
                                 title=dict(text="Position Error(Pixel)", font=title_font, standoff=3))
    cy = 208 if i <= 5 else 432
    annotations.append(dict(x=(x0 + x1) / 2 / W, y=1 - cy / H, xref="paper", yref="paper",
                            text=CAPTIONS[i - 1], showarrow=False, xanchor="center", yanchor="middle",
                            font=dict(size=18, color="black", family="Liberation Sans, Arial, sans-serif")))

# bottom legend (text + colour bar)
legend_layout = [(368, 372, 426), (497, 501, 554), (644, 646, 700), (771, 773, 828), (913, 920, 976)]
for name, (tr, r0, r1) in zip(LEGEND_NAMES, legend_layout):
    annotations.append(dict(x=tr / W, y=1 - 476 / H, xref="paper", yref="paper", text=name,
                            showarrow=False, xanchor="right", yanchor="middle", borderpad=0,
                            font=dict(size=22, color="black", family="Liberation Serif, Times New Roman, serif")))
    shapes.append(dict(type="rect", xref="paper", yref="paper", x0=r0 / W, x1=r1 / W,
                       y0=1 - 482 / H, y1=1 - 472 / H, fillcolor=LEGEND_COLORS[name],
                       line=dict(width=0)))

layout["annotations"] = annotations
layout["shapes"] = shapes
fig.update_layout(**layout)
fig.write_html("out.html")
